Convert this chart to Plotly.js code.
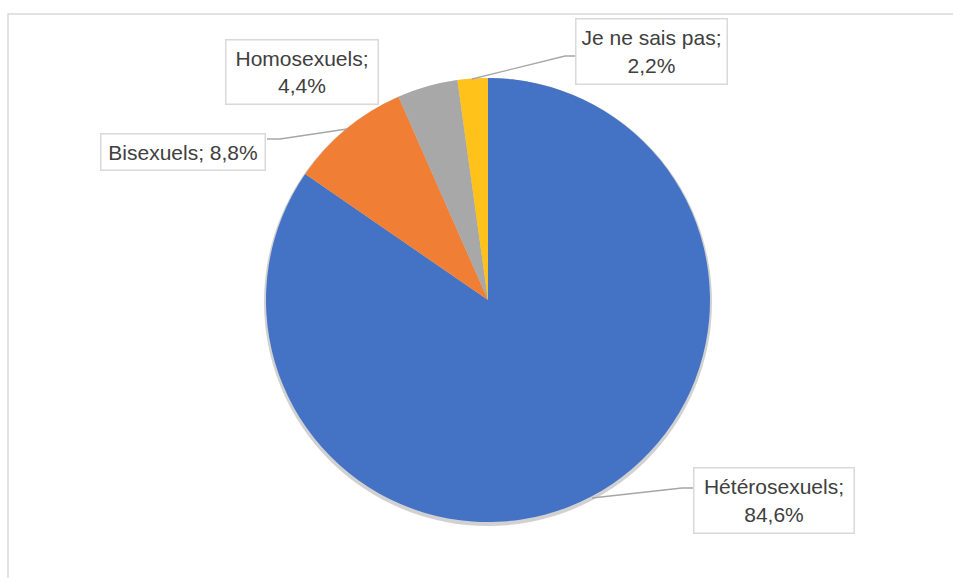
<!DOCTYPE html>
<html>
<head>
<meta charset="utf-8">
<script src="https://cdn.plot.ly/plotly-3.0.1.min.js"></script>
<style>html,body{margin:0;padding:0;background:#fff;}#chart{width:953px;height:578px;}</style>
</head>
<body>
<div id="chart"></div>
<script>
// Data
const categories = ["Hétérosexuels", "Bisexuels", "Homosexuels", "Je ne sais pas"];
const values = [84.6, 8.8, 4.4, 2.2];
const sliceColors = ["#4472C4", "#F07F35", "#A8A8A8", "#FFC21A"];
const multiLine = [true, false, true, true];

const W = 953, H = 578;
const px = x => x / W;
const py = y => 1 - y / H;

// label boxes (pixel layout)
const boxes = [
  {cx: 774, cy: 500.5, w: 162, h: 67},
  {cx: 183, cy: 152, w: 166, h: 38},
  {cx: 302, cy: 72, w: 154, h: 66},
  {cx: 651.5, cy: 51.5, w: 153, h: 67}
];
// leader lines (pixel layout)
const leaders = [
  [[592, 498], [682, 488], [693, 488]],
  [[347, 129], [280, 139], [267, 139]],
  null,
  [[472, 79], [565, 56], [576, 56]]
];

const fmt = v => v.toFixed(1).replace('.', ',') + '%';

const annotations = categories.map((c, i) => ({
  xref: 'paper', yref: 'paper',
  x: px(boxes[i].cx), y: py(boxes[i].cy),
  xanchor: 'center', yanchor: 'middle',
  text: c + ';' + (multiLine[i] ? '<br>' : ' ') + fmt(values[i]),
  showarrow: false,
  font: {family: 'Liberation Sans, Arial, sans-serif', size: 21, color: '#404040'},
  bordercolor: '#D9D9D9', borderwidth: 1.5, borderpad: 0,
  bgcolor: '#FFFFFF',
  width: boxes[i].w - 3, height: boxes[i].h - 3,
  align: 'center', valign: 'middle'
}));

const shapes = [
  {type: 'rect', xref: 'paper', yref: 'paper', x0: px(8), x1: 1.2, y0: -0.2, y1: py(14),
   line: {color: '#D9D9D9', width: 1.5}, fillcolor: 'rgba(0,0,0,0)', layer: 'below'}
];
leaders.forEach(l => {
  if (!l) return;
  let path = 'M ' + l.map(p => px(p[0]) + ',' + py(p[1])).join(' L ');
  shapes.push({type: 'path', xref: 'paper', yref: 'paper', path: path,
    line: {color: '#A6A6A6', width: 1.4}});
});

// pie geometry: center (488,300), r = 222
const cx = 488, cy = 300, r = 222;
const traces = [
  {
    type: 'pie', values: [1], labels: ['shadow'], sort: false,
    marker: {colors: ['rgba(0,0,0,0.18)'], line: {width: 0}},
    textinfo: 'none', hoverinfo: 'skip', showlegend: false,
    domain: {x: [px(cx - r - 2), px(cx + r + 2)], y: [py(cy + r + 4), py(cy - r + 0)]}
  },
  {
    type: 'pie', values: values, labels: categories, sort: false,
    direction: 'clockwise', rotation: 0,
    marker: {colors: sliceColors, line: {width: 0}},
    textinfo: 'none', hoverinfo: 'label+percent', showlegend: false,
    domain: {x: [px(cx - r), px(cx + r)], y: [py(cy + r), py(cy - r)]}
  }
];

const layout = {
  width: W, height: H,
  margin: {l: 0, r: 0, t: 0, b: 0},
  paper_bgcolor: '#FFFFFF',
  showlegend: false,
  annotations: annotations,
  shapes: shapes
};

Plotly.newPlot('chart', traces, layout, {displayModeBar: false, staticPlot: true});
</script>
</body>
</html>
